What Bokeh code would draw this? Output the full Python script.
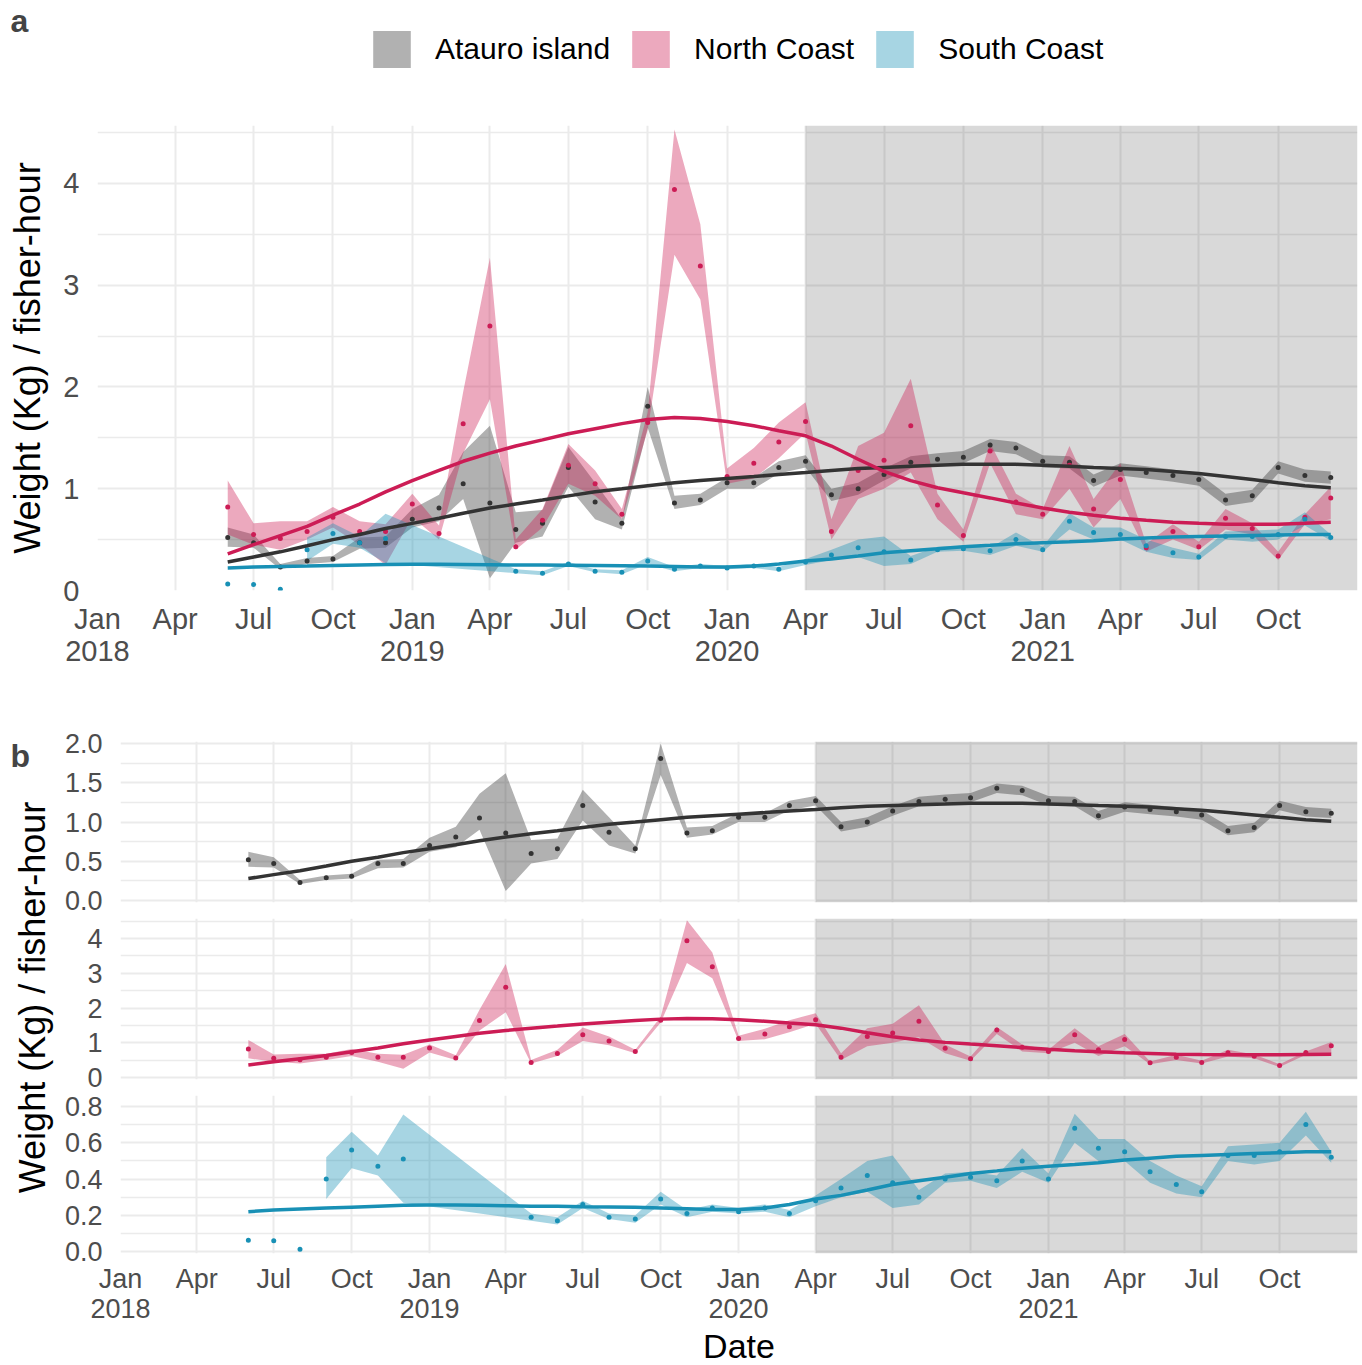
import math
import pandas as pd
from bokeh.plotting import figure
from bokeh.models import (Range1d, FixedTicker, Legend, LegendItem, Label,
                          BoxAnnotation, ColumnDataSource, NumeralTickFormatter)
from bokeh.layouts import column, row
from bokeh.embed import file_html
from bokeh.resources import INLINE

# ---------------- data ----------------
months = pd.date_range("2018-06-01", "2021-12-01", freq="MS")          # Jun 2018 .. Dec 2021
south_months = [m for m in months if not (m.year == 2019 and m.month < 5)]  # no South data Jan-Apr 2019

atauro_mean = [0.52, 0.47, 0.23, 0.29, 0.31, 0.47, 0.47,
               0.70, 0.81, 1.05, 0.86, 0.60, 0.66, 1.21, 0.87, 0.66, 1.81, 0.86, 0.89,
               1.06, 1.06, 1.21, 1.27, 0.94, 1.00, 1.14, 1.26, 1.29, 1.31, 1.43, 1.40,
               1.27, 1.26, 1.08, 1.19, 1.16, 1.13, 1.09, 0.89, 0.93, 1.21, 1.13, 1.11]
atauro_lo = [0.43, 0.42, 0.21, 0.26, 0.28, 0.41, 0.42,
             0.62, 0.68, 0.90, 0.12, 0.47, 0.53, 1.02, 0.70, 0.60, 1.60, 0.80, 0.84,
             1.00, 1.00, 1.15, 1.21, 0.88, 0.94, 1.08, 1.20, 1.23, 1.25, 1.37, 1.34,
             1.21, 1.20, 1.02, 1.13, 1.10, 1.07, 1.03, 0.83, 0.87, 1.15, 1.07, 1.05]
atauro_hi = [0.62, 0.55, 0.26, 0.32, 0.34, 0.52, 0.53,
             0.80, 0.94, 1.36, 1.62, 0.77, 0.79, 1.41, 1.06, 0.70, 2.00, 0.93, 0.95,
             1.11, 1.11, 1.27, 1.33, 1.00, 1.06, 1.20, 1.32, 1.35, 1.37, 1.49, 1.46,
             1.33, 1.32, 1.14, 1.25, 1.22, 1.19, 1.15, 0.95, 0.99, 1.27, 1.19, 1.17]
atauro_smooth = [0.28, 0.33, 0.38, 0.44, 0.50, 0.55, 0.61,
                 0.66, 0.71, 0.76, 0.81, 0.85, 0.89, 0.93, 0.97, 1.00, 1.03, 1.06, 1.08,
                 1.10, 1.12, 1.14, 1.16, 1.18, 1.20, 1.21, 1.22, 1.23, 1.24, 1.24, 1.24,
                 1.23, 1.22, 1.21, 1.20, 1.19, 1.17, 1.15, 1.12, 1.09, 1.06, 1.03, 1.01]

north_mean = [0.82, 0.55, 0.51, 0.58, 0.72, 0.58, 0.58,
              0.85, 0.56, 1.64, 2.60, 0.43, 0.69, 1.23, 1.05, 0.75, 1.65, 3.94, 3.19,
              1.12, 1.25, 1.46, 1.66, 0.58, 1.18, 1.28, 1.62, 0.84, 0.54, 1.37, 0.87,
              0.75, 1.23, 0.80, 1.09, 0.42, 0.58, 0.43, 0.71, 0.61, 0.34, 0.72, 0.91]
north_lo = [0.55, 0.45, 0.40, 0.50, 0.62, 0.45, 0.25,
            0.72, 0.50, 1.35, 1.88, 0.40, 0.62, 1.05, 0.93, 0.70, 1.58, 3.30, 2.86,
            1.05, 1.10, 1.30, 1.55, 0.50, 0.90, 1.00, 1.16, 0.70, 0.48, 1.25, 0.75,
            0.70, 1.00, 0.62, 0.90, 0.38, 0.50, 0.40, 0.60, 0.55, 0.30, 0.65, 0.70]
north_hi = [1.08, 0.66, 0.68, 0.68, 0.82, 0.68, 0.65,
            0.95, 0.64, 1.95, 3.27, 0.50, 0.80, 1.44, 1.18, 0.80, 1.75, 4.53, 3.60,
            1.20, 1.40, 1.65, 1.85, 0.70, 1.42, 1.55, 2.08, 0.95, 0.60, 1.45, 0.95,
            0.80, 1.42, 0.90, 1.25, 0.46, 0.65, 0.48, 0.80, 0.66, 0.38, 0.75, 1.02]
north_smooth = [0.36, 0.45, 0.54, 0.63, 0.74, 0.85, 0.97,
                1.08, 1.18, 1.27, 1.35, 1.42, 1.48, 1.54, 1.59, 1.64, 1.68, 1.70, 1.69,
                1.66, 1.62, 1.57, 1.52, 1.42, 1.29, 1.17, 1.08, 1.01, 0.96, 0.91, 0.86,
                0.81, 0.77, 0.74, 0.71, 0.69, 0.67, 0.66, 0.65, 0.65, 0.65, 0.66, 0.67]

south_mean = [0.063, 0.060, 0.013, 0.40, 0.56, 0.47, 0.51,
              0.19, 0.17, 0.26, 0.19, 0.18, 0.29, 0.21, 0.24,
              0.22, 0.24, 0.21, 0.28, 0.35, 0.42, 0.38, 0.30, 0.40, 0.41, 0.39, 0.50,
              0.40, 0.68, 0.57, 0.55, 0.44, 0.37, 0.33, 0.53, 0.53, 0.55, 0.70, 0.52]
south_lo = [None, None, None, 0.29, 0.46, 0.42, 0.27,
            0.17, 0.15, 0.24, 0.18, 0.16, 0.26, 0.19, 0.22,
            0.21, 0.22, 0.19, 0.25, 0.30, 0.33, 0.24, 0.26, 0.38, 0.39, 0.35, 0.44,
            0.38, 0.60, 0.50, 0.50, 0.38, 0.32, 0.30, 0.50, 0.48, 0.50, 0.64, 0.49]
south_hi = [None, None, None, 0.52, 0.66, 0.53, 0.755,
            0.21, 0.19, 0.28, 0.21, 0.20, 0.33, 0.23, 0.26,
            0.24, 0.26, 0.23, 0.31, 0.40, 0.50, 0.53, 0.34, 0.43, 0.44, 0.42, 0.57,
            0.43, 0.76, 0.62, 0.62, 0.50, 0.42, 0.36, 0.58, 0.59, 0.60, 0.77, 0.55]
south_smooth = [0.22, 0.23, 0.235, 0.24, 0.245, 0.25, 0.255,
                0.257, 0.257, 0.255, 0.253, 0.25, 0.25, 0.248, 0.246, 0.244, 0.24, 0.236, 0.232,
                0.232, 0.24, 0.26, 0.29, 0.31, 0.34, 0.37, 0.39, 0.41, 0.43, 0.445, 0.46,
                0.47, 0.48, 0.49, 0.505, 0.515, 0.525, 0.53, 0.535, 0.54, 0.545, 0.55, 0.55]

series_names = ["Atauro island", "North Coast", "South Coast"]
series_colors = ["#333333", "#CC1C55", "#1890B5"]

covid_start = "2020-04-01"
x_start, x_end = "2018-01-01", "2022-01-01"
tick_dates = ["2018-01-01", "2018-04-01", "2018-07-01", "2018-10-01",
              "2019-01-01", "2019-04-01", "2019-07-01", "2019-10-01",
              "2020-01-01", "2020-04-01", "2020-07-01", "2020-10-01",
              "2021-01-01", "2021-04-01", "2021-07-01", "2021-10-01"]
tick_labels = ["Jan\n2018", "Apr", "Jul", "Oct", "Jan\n2019", "Apr", "Jul", "Oct",
               "Jan\n2020", "Apr", "Jul", "Oct", "Jan\n2021", "Apr", "Jul", "Oct"]

FONT = "Liberation Sans"
GRID = "#EBEBEB"
TXT = "#4D4D4D"
RIBBON_ALPHA = 0.38


def ms(d):
    return int(pd.Timestamp(d).value // 10**6)


tick_ms = [ms(d) for d in tick_dates]
series = [
    dict(x=list(months), mean=atauro_mean, lo=atauro_lo, hi=atauro_hi, smooth=atauro_smooth),
    dict(x=list(months), mean=north_mean, lo=north_lo, hi=north_hi, smooth=north_smooth),
    dict(x=south_months, mean=south_mean, lo=south_lo, hi=south_hi, smooth=south_smooth),
]


def style(p, yticks, yminor, yfmt, show_x, fs):
    p.outline_line_color = None
    p.background_fill_color = "white"
    p.border_fill_color = "white"
    xt = FixedTicker(ticks=tick_ms, minor_ticks=[])
    p.xaxis.ticker = xt
    p.xgrid.ticker = xt
    p.xaxis.major_label_overrides = {t: l for t, l in zip(tick_ms, tick_labels)}
    yt = FixedTicker(ticks=yticks, minor_ticks=yminor)
    p.yaxis.ticker = yt
    p.ygrid.ticker = yt
    if yfmt:
        p.yaxis.formatter = NumeralTickFormatter(format=yfmt)
    p.xgrid.grid_line_color = GRID
    p.xgrid.grid_line_width = 2
    p.ygrid.grid_line_color = GRID
    p.ygrid.grid_line_width = 2
    p.ygrid.minor_grid_line_color = GRID
    p.ygrid.minor_grid_line_width = 1.5
    for ax in p.axis:
        ax.axis_line_color = None
        ax.major_tick_line_color = None
        ax.minor_tick_line_color = None
        ax.major_label_text_font = FONT
        ax.major_label_text_font_size = fs
        ax.major_label_text_color = TXT
        ax.major_label_text_line_height = 1.0
        ax.major_label_standoff = 12
        ax.axis_label_text_font = FONT
        ax.axis_label_text_font_size = "36px"
        ax.axis_label_text_font_style = "normal"
        ax.axis_label_text_color = "black"
    p.xaxis.major_label_standoff = 6
    p.xaxis.visible = show_x
    p.add_layout(BoxAnnotation(left=ms(covid_start), fill_color="black", fill_alpha=0.15,
                               line_color=None, level="underlay"))


def draw(p, idxs):
    for i in idxs:
        s = series[i]
        keep = [k for k in range(len(s["x"])) if s["lo"][k] is not None]
        src = ColumnDataSource(dict(x=[s["x"][k] for k in keep],
                                    lo=[s["lo"][k] for k in keep],
                                    hi=[s["hi"][k] for k in keep]))
        p.varea(x="x", y1="lo", y2="hi", source=src, fill_color=series_colors[i],
                fill_alpha=RIBBON_ALPHA)
    for i in idxs:
        s = series[i]
        p.scatter(s["x"], s["mean"], size=5, color=series_colors[i], line_width=0)
    for i in idxs:
        s = series[i]
        p.line(list(months), s["smooth"], line_width=3.5, color=series_colors[i])


def xr():
    return Range1d(start=pd.Timestamp(x_start), end=pd.Timestamp(x_end))


def blank(w, h):
    f = figure(width=w, height=h, x_range=Range1d(0, w), y_range=Range1d(0, h),
               toolbar_location=None, output_backend="svg", min_border=0,
               x_axis_location=None, y_axis_location=None)
    f.outline_line_color = None
    f.xgrid.visible = False
    f.ygrid.visible = False
    return f


# ---------------- header (panel letter a + legend) ----------------
HEAD_H = 120
a_fig = blank(97, HEAD_H)
a_fig.add_layout(Label(x=10, y=HEAD_H - 2, text="a", text_font=FONT, text_font_size="32px",
                       text_font_style="bold", text_baseline="top", text_align="left"))
head = blank(1265, HEAD_H)
swatches = []
for c in series_colors:
    # zero-height area: only provides the legend swatch
    swatches.append(head.varea(x=[0, 1], y1=[0, 0], y2=[0, 0], fill_color=c, fill_alpha=RIBBON_ALPHA))
legend = Legend(items=[LegendItem(label=n, renderers=[r]) for n, r in zip(series_names, swatches)],
                location=(271, HEAD_H - 72), orientation="horizontal", glyph_width=47, glyph_height=46,
                label_height=46, label_standoff=20, spacing=17, padding=0, margin=0,
                border_line_color=None, background_fill_alpha=0,
                label_text_font=FONT, label_text_font_size="30px", label_text_color="black")
head.add_layout(legend, "center")

# ---------------- panel a ----------------
pa = figure(frame_width=1260, frame_height=465, x_axis_type="datetime", x_range=xr(),
            y_range=Range1d(0, 4.57), toolbar_location=None, output_backend="svg",
            min_border_left=97, min_border_right=5, min_border_top=125 - HEAD_H,
            min_border_bottom=125)
style(pa, [0, 1, 2, 3, 4], [0.5, 1.5, 2.5, 3.5, 4.5], None, True, "29px")
pa.yaxis.axis_label = "Weight (Kg) / fisher-hour"
pa.yaxis.axis_label_standoff = 12
draw(pa, [0, 1, 2])

# ---------------- panel b ----------------
def bfig(h, top, bottom, yr):
    return figure(frame_width=1237, frame_height=h, x_axis_type="datetime", x_range=xr(),
                  y_range=yr, toolbar_location=None, output_backend="svg",
                  min_border_left=60, min_border_right=5, min_border_top=top, min_border_bottom=bottom)


b1 = bfig(161, 26, 14, Range1d(-0.025, 2.025))
style(b1, [0, 0.5, 1, 1.5, 2], [0.25, 0.75, 1.25, 1.75], "0.0", False, "27px")
draw(b1, [0])

b2 = bfig(161, 2, 14, Range1d(-0.06, 4.58))
style(b2, [0, 1, 2, 3, 4], [0.5, 1.5, 2.5, 3.5, 4.5], None, False, "27px")
draw(b2, [1])

b3 = bfig(158, 2, 112, Range1d(-0.01, 0.86))
style(b3, [0, 0.2, 0.4, 0.6, 0.8], [0.1, 0.3, 0.5, 0.7], "0.0", True, "27px")
b3.xaxis.major_label_standoff = 4
b3.xaxis.axis_label = "Date"
b3.xaxis.axis_label_standoff = 0
b3.xaxis.axis_label_text_font_size = "34px"
draw(b3, [2])

lab = blank(60, 650)
lab.add_layout(Label(x=32, y=650 - 282, text="Weight (Kg) / fisher-hour", angle=math.pi / 2,
                     text_font=FONT, text_font_size="36px", text_align="center",
                     text_baseline="middle", text_color="black"))
lab.add_layout(Label(x=10, y=650 - 22, text="b", text_font=FONT, text_font_size="32px",
                     text_font_style="bold", text_baseline="top", text_align="left"))

layout = column(row(a_fig, head), pa, row(lab, column(b1, b2, b3)))
open("out.html", "w").write(file_html(layout, INLINE))
